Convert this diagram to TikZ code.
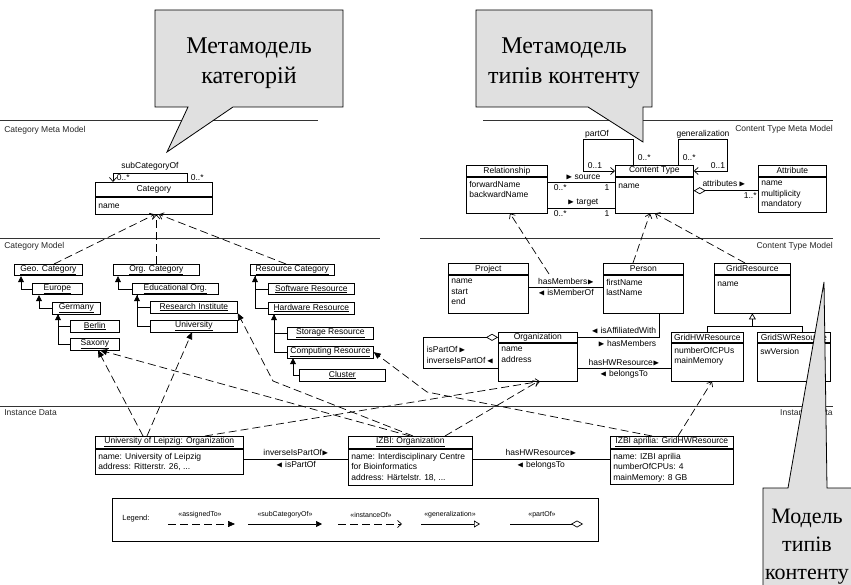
\documentclass[tikz,border=0pt]{standalone}
\usepackage{fontspec}
\setmainfont{Liberation Sans}
\newfontfamily\calloutfont{Liberation Serif}
\usepackage{amssymb}
\usetikzlibrary{arrows.meta}

\newcommand{\rtri}{$\blacktriangleright$}
\newcommand{\ltri}{$\blacktriangleleft$}
% class box: name, corner, width, head height, body height, title, attributes
\newcommand{\umlcls}[7]{%
  \node[clshead,minimum width=#3pt,minimum height=#4pt] (#1) at #2 {#6};
  \node[clsbody,minimum width=#3pt,minimum height=#5pt] (#1-b) at (#1.south west) {};
  \node[attrs] (#1-t) at ([shift={(3pt,-4pt)}]#1-b.north west) {#7};}

\begin{document}
\begin{tikzpicture}[x=1pt,y=-1pt,line width=0.7pt,
  every node/.style={inner sep=1pt,font=\fontsize{8.5}{10}\selectfont},
  rule/.style={line width=0.9pt,black!80},
  sect/.style={text=black!85,inner sep=0pt},
  clshead/.style={draw,anchor=north west,inner sep=0pt},
  clsbody/.style={draw,anchor=north west,inner sep=0pt},
  attrs/.style={anchor=north west,align=left,inner sep=0pt,font=\fontsize{8.5}{10.5}\selectfont,execute at begin node=\strut},
  catbox/.style={draw,anchor=north west,inner sep=0.5pt,minimum height=11.5pt},
  lbl/.style={inner sep=0.5pt},
  subcat/.style={-{Triangle[length=6pt,width=6pt]}},
  openarr/.style={-{Straight Barb[length=4pt,width=7pt]}},
  assigned/.style={dash pattern=on 8pt off 4pt,-{Triangle[length=7pt,width=6pt]}},
  instof/.style={dash pattern=on 8pt off 4pt,-{Straight Barb[length=4pt,width=7pt]}},
  gen/.style={-{Triangle[open,length=6pt,width=7pt]}},
  part/.style={{Diamond[open,length=12pt,width=7pt]}-},
  callout/.style={draw=black,fill=black!12,line width=0.8pt},
  callouttext/.style={align=center,inner sep=0pt,font=\calloutfont\fontsize{24}{30}\selectfont},
  leglbl/.style={inner sep=0pt,font=\fontsize{7}{8}\selectfont}]
  \useasboundingbox (0,0) rectangle (851,585);

  % section rules
  \draw[rule] (0,120) -- (318,120);
  \draw[rule] (483,120) -- (833,120);
  \draw[rule] (0,238) -- (380,238);
  \draw[rule] (420,238) -- (833,238);
  \draw[rule] (0,406) -- (833,406);
  \node[sect,anchor=west] (scmm) at (4,130) {Category Meta Model};
  \node[sect,anchor=east] (sctmm) at (833,129) {Content Type Meta Model};
  \node[sect,anchor=west] (scm) at (4,246) {Category Model};
  \node[sect,anchor=east] (sctm) at (833,246) {Content Type Model};
  \node[sect,anchor=west] (sid) at (4,413) {Instance Data};
  \node[sect,anchor=east] (sidr) at (833,413) {Instance Data};

  % category meta model
  \umlcls{cat}{(95,182)}{117}{14}{17}{Category}{name}
  \draw[openarr] ([xshift=92pt]cat.north west) -- ++(0,-9) -| ([xshift=18pt]cat.north west);
  \node[lbl] (lsco) at (150,166) {subCategoryOf};
  \node[lbl,anchor=west] (msco1) at (116,178) {0..*};
  \node[lbl,anchor=west] (msco2) at (190,178) {0..*};

  % content type meta model
  \umlcls{rel}{(466,165)}{81}{11}{36}{Relationship}{forwardName\\backwardName}
  \umlcls{ct}{(615,165)}{78}{11}{36}{Content Type}{name}
  \umlcls{attr}{(758,165)}{68}{11}{35}{Attribute}{name\\multiplicity\\mandatory}
  \draw ([yshift=-6pt]rel-b.north east) -- ([yshift=-6pt]ct-b.north west);
  \node[lbl] (lsrc) at (583,177) {\rtri\ source};
  \node[lbl,anchor=west] (msrc1) at (553,188) {0..*};
  \node[lbl] (msrc2) at (607,188) {1};
  \draw ([yshift=-32pt]rel-b.north east) -- ([yshift=-32pt]ct-b.north west);
  \node[lbl] (ltgt) at (583,203) {\rtri\ target};
  \node[lbl,anchor=west] (mtgt1) at (553,214) {0..*};
  \node[lbl] (mtgt2) at (607,214) {1};
  \draw[openarr] ([xshift=18pt]ct.north west) -- ++(0,-26) -- ++(-50,0) |- ([yshift=-6pt]ct.north west);
  \node[lbl] (lpart) at (597,134) {partOf};
  \node[lbl,anchor=west] (mpart1) at (637,158) {0..*};
  \node[lbl,anchor=west] (mpart2) at (587,166) {0..1};
  \draw[openarr] ([xshift=-15pt]ct.north east) -- ++(0,-26) -- ++(49,0) |- ([yshift=-6pt]ct.north east);
  \node[lbl] (lgen) at (703,134) {generalization};
  \node[lbl,anchor=west] (mgen1) at (682,158) {0..*};
  \node[lbl,anchor=west] (mgen2) at (710,166) {0..1};
  \draw[part] ([yshift=-14pt]ct-b.north east) -- ([yshift=-14pt]attr-b.north west);
  \node[lbl] (latt) at (724,184) {attributes\,\rtri};
  \node[lbl,anchor=west] (matt) at (743,196) {1..*};

  % category model
  \node[catbox,minimum width=68pt] (geo) at (14,264) {\underline{Geo. Category}};
  \node[catbox,minimum width=50pt] (eur) at (32,283) {\underline{Europe}};
  \node[catbox,minimum width=48pt] (ger) at (52,302) {\underline{Germany}};
  \node[catbox,minimum width=49pt] (ber) at (70,320) {\underline{Berlin}};
  \node[catbox,minimum width=49pt] (sax) at (70,338) {\underline{Saxony}};
  \node[catbox,minimum width=86pt] (orgcat) at (113,264) {\underline{Org. Category}};
  \node[catbox,minimum width=86pt] (edu) at (132,283) {\underline{Educational Org.}};
  \node[catbox,minimum width=87pt] (ri) at (150,301) {\underline{Research Institute}};
  \node[catbox,minimum width=87pt] (uni) at (150,320) {\underline{University}};
  \node[catbox,minimum width=84pt] (rescat) at (250,264) {\underline{Resource Category}};
  \node[catbox,minimum width=86pt] (sw) at (268,283) {\underline{Software Resource}};
  \node[catbox,minimum width=86pt] (hw) at (268,302) {\underline{Hardware Resource}};
  \node[catbox,minimum width=86pt] (sto) at (287,327) {\underline{Storage Resource}};
  \node[catbox,minimum width=86pt] (comp) at (287,346) {\underline{Computing Resource}};
  \node[catbox,minimum width=86pt] (clu) at (299,369) {\underline{Cluster}};
  \draw[subcat] (eur.west) -| ([xshift=7pt]geo.south west);
  \draw[subcat] (ger.west) -| ([xshift=7pt]eur.south west);
  \draw (ber.west) -| ([xshift=6pt]ger.south west);
  \draw[subcat] (sax.west) -| ([xshift=6pt]ger.south west);
  \draw[subcat] (edu.west) -| ([xshift=5pt]orgcat.south west);
  \draw (ri.west) -| ([xshift=5pt]edu.south west);
  \draw[subcat] (uni.west) -| ([xshift=5pt]edu.south west);
  \draw (sw.west) -| ([xshift=5pt]rescat.south west);
  \draw[subcat] (hw.west) -| ([xshift=5pt]rescat.south west);
  \draw (sto.west) -| ([xshift=6pt]hw.south west);
  \draw[subcat] (comp.west) -| ([xshift=6pt]hw.south west);
  \draw[subcat] (clu.west) -| ([xshift=6pt]comp.south west);
  \draw[instof] ([xshift=40pt]geo.north west) -- ([xshift=1pt]cat-b.south);
  \draw[instof] (orgcat.north) -- (cat-b.south -| orgcat.north);
  \draw[instof] ([xshift=36pt]rescat.north west) -- ([xshift=5pt]cat-b.south);

  % content type model
  \umlcls{proj}{(448,263)}{80}{11}{38}{Project}{name\\start\\end}
  \umlcls{pers}{(603,263)}{80}{11}{38}{Person}{firstName\\lastName}
  \umlcls{grid}{(714,263)}{76}{11}{38}{GridResource}{name}
  \umlcls{org}{(498,332)}{79}{10}{38}{Organization}{name\\address}
  \umlcls{ghw}{(671,332)}{72}{10}{38}{GridHWResource}{numberOfCPUs\\mainMemory}
  \umlcls{gsw}{(757,332)}{73}{10}{38}{GridSWResource}{swVersion}
  \draw ([yshift=-13pt]proj-b.north east) -- ([yshift=-13pt]pers-b.north west);
  \node[lbl] (lhm) at (566,282) {hasMembers\rtri};
  \node[lbl] (lmo) at (566,293) {\ltri\ isMemberOf};
  \draw ([xshift=56pt]pers-b.south west) |- (org.east);
  \node[lbl,anchor=east] (laff) at (657,331) {\ltri\ isAffiliatedWith};
  \node[lbl,anchor=east] (lhm2) at (657,344) {\rtri\ hasMembers};
  \draw[part] (org.west) -- ++(-75,0) |- ([yshift=-26pt]org-b.north west);
  \node[lbl,anchor=west] (lpo) at (426,350) {isPartOf\,\rtri};
  \node[lbl,anchor=west] (lipo) at (426,361) {inverseIsPartOf\,\ltri};
  \draw ([yshift=-26pt]org-b.north east) -- ([yshift=-26pt]ghw-b.north west);
  \node[lbl] (lhw) at (624,363) {hasHWResource\rtri};
  \node[lbl] (lbt) at (624,374) {\ltri\ belongsTo};
  \draw (ghw.north) |- ([yshift=-13pt]grid-b.south) -| ([xshift=45pt]gsw.north west);
  \draw[gen] ([yshift=-13pt]grid-b.south) -- (grid-b.south);
  \coordinate (hmas) at (549,274);
  \draw[instof] (hmas) -- ([xshift=44pt]rel-b.south west);
  \draw[instof] ([xshift=30pt]pers.north west) -- ([xshift=35pt]ct-b.south west);
  \draw[instof] ([xshift=31pt]grid.north west) -- ([xshift=40pt]ct-b.south west);

  % instance data
  \umlcls{leip}{(95,436)}{148}{12}{25}{\underline{University of Leipzig: Organization}}{name: University of Leipzig\\address: Ritterstr. 26, ...}
  \umlcls{izbi}{(348,436)}{124}{12}{36}{\underline{IZBI: Organization}}{name: Interdisciplinary Centre\\for Bioinformatics\\address: Härtelstr. 18, ...}
  \umlcls{apr}{(610,436)}{123}{12}{35}{\underline{IZBI aprilia: GridHWResource}}{name: IZBI aprilia\\numberOfCPUs: 4\\mainMemory: 8 GB}
  \draw ([yshift=-11pt]leip-b.north east) -- ([yshift=-11pt]izbi-b.north west);
  \node[lbl] (lipo2) at (296,453) {inverseIsPartOf\rtri};
  \node[lbl] (lpo2) at (296,465) {\ltri\ isPartOf};
  \draw ([yshift=-11pt]izbi-b.north east) -- ([yshift=-11pt]apr-b.north west);
  \node[lbl] (lhw2) at (541,453) {hasHWResource\rtri};
  \node[lbl] (lbt2) at (541,465) {\ltri\ belongsTo};
  \coordinate (kri) at (273,381);
  \coordinate (kcomp) at (427,392);
  \draw[assigned] ([xshift=48pt]leip.north west) -- ([xshift=28pt]sax.south west);
  \draw[assigned] ([xshift=52pt]leip.north west) -- ([xshift=42pt]uni.south west);
  \draw[assigned] ([xshift=62pt]izbi.north west) -- ([xshift=30pt]sax.south west);
  \draw[assigned] ([xshift=65pt]izbi.north west) -- (kri) -- (ri.south east);
  \draw[assigned] ([xshift=42pt]apr.north west) -- (kcomp) -- (comp.east);
  \draw[instof] ([xshift=110pt]leip.north west) -- ([xshift=42pt]org-b.south west);
  \draw[instof] ([xshift=97pt]izbi.north west) -- ([xshift=40pt]org-b.south west);
  \draw[instof] ([xshift=68pt]apr.north west) -- ([xshift=41pt]ghw-b.south west);

  % legend
  \node[draw,anchor=north west,minimum width=486pt,minimum height=43pt] (leg) at (112,498) {};
  \node[leglbl,anchor=west,font=\fontsize{7.5}{9}\selectfont] (legt) at (122,519) {Legend:};
  \draw[assigned] (168,524) -- (235,524);
  \node[leglbl] (lg1) at (200,515) {«assignedTo»};
  \draw[subcat] (248,524) -- (322,524);
  \node[leglbl] (lg2) at (285,515) {«subCategoryOf»};
  \draw[instof] (338,524) -- (402,524);
  \node[leglbl] (lg3) at (371,515) {«instanceOf»};
  \draw[gen] (421,524) -- (480,524);
  \node[leglbl] (lg4) at (450,515) {«generalization»};
  \draw[-{Diamond[open,length=12pt,width=7pt]}] (510,524) -- (583,524);
  \node[leglbl] (lg5) at (542,515) {«partOf»};

  % callouts
  \filldraw[callout] (155,10) -- (343,10) -- (343,107) -- (233,107) -- (167,152) -- (188,107) -- (155,107) -- cycle;
  \node[callouttext] (cmeta) at (249,63) {Метамодель\\категорій};
  \filldraw[callout] (476,10) -- (652,10) -- (652,107) -- (643,107) -- (643,142) -- (588,107) -- (476,107) -- cycle;
  \node[callouttext] (ctmeta) at (564,63) {Метамодель\\типів контенту};
  \filldraw[callout] (763,488) -- (788,488) -- (824,282) -- (827,488) -- (860,488) -- (860,600) -- (763,600) -- cycle;
  \node[callouttext,font=\calloutfont\fontsize{22}{28}\selectfont] (ctm) at (807,547) {Модель\\типів\\контенту};
\end{tikzpicture}
\end{document}
